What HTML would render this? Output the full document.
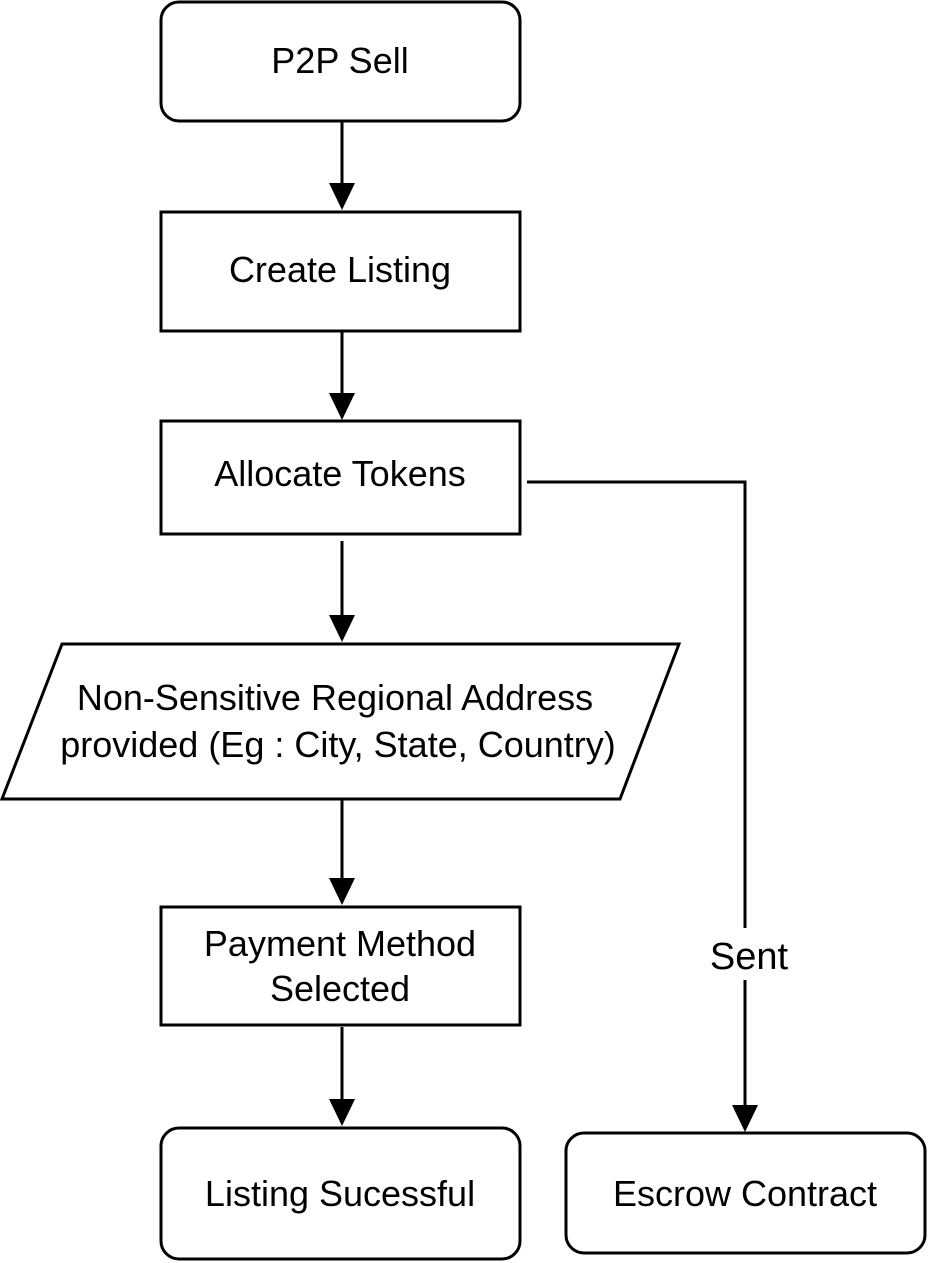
<!DOCTYPE html>
<html><head><meta charset="utf-8"><style>
html,body{margin:0;padding:0;background:#fff;}
svg{display:block;}
text{font-family:"Liberation Sans",Arial,sans-serif;font-size:36px;fill:#000;text-anchor:middle;}
</style></head><body>
<svg width="930" height="1263" viewBox="0 0 930 1263" xmlns="http://www.w3.org/2000/svg">
<g fill="none" stroke="#000" stroke-width="3">
<rect x="161" y="2" width="359" height="119" rx="18"/>
<rect x="161" y="212" width="359" height="119"/>
<rect x="161" y="421" width="359" height="113"/>
<polygon points="62,644 679,644 620,799 2,799"/>
<rect x="161" y="907" width="359" height="118"/>
<rect x="161" y="1128" width="359" height="131" rx="18"/>
<rect x="566" y="1133" width="359" height="120" rx="18"/>
<line x1="342" y1="122" x2="342" y2="190"/>
<line x1="342" y1="332" x2="342" y2="399"/>
<line x1="342" y1="541" x2="342" y2="622"/>
<line x1="342" y1="800" x2="342" y2="885"/>
<line x1="342" y1="1027" x2="342" y2="1106"/>
<polyline points="527,482 745,482 745,1112"/>
</g>
<g fill="#000">
<polygon points="329,183 355,183 342,210"/>
<polygon points="329,393 355,393 342,420"/>
<polygon points="329,615 355,615 342,642"/>
<polygon points="329,878 355,878 342,905"/>
<polygon points="329,1099 355,1099 342,1126"/>
<polygon points="732,1105 758,1105 745,1132"/>
</g>
<rect x="700" y="928" width="96" height="52" fill="#fff"/>
<text x="340" y="73">P2P Sell</text>
<text x="340" y="282">Create Listing</text>
<text x="340" y="486">Allocate Tokens</text>
<text x="335" y="710">Non-Sensitive Regional Address</text>
<text x="338" y="757">provided (Eg : City, State, Country)</text>
<text x="340" y="956">Payment Method</text>
<text x="340" y="1001">Selected</text>
<text x="340" y="1206">Listing Sucessful</text>
<text x="745" y="1206">Escrow Contract</text>
<text x="749" y="969" style="font-size:38px">Sent</text>
</svg>
</body></html>
